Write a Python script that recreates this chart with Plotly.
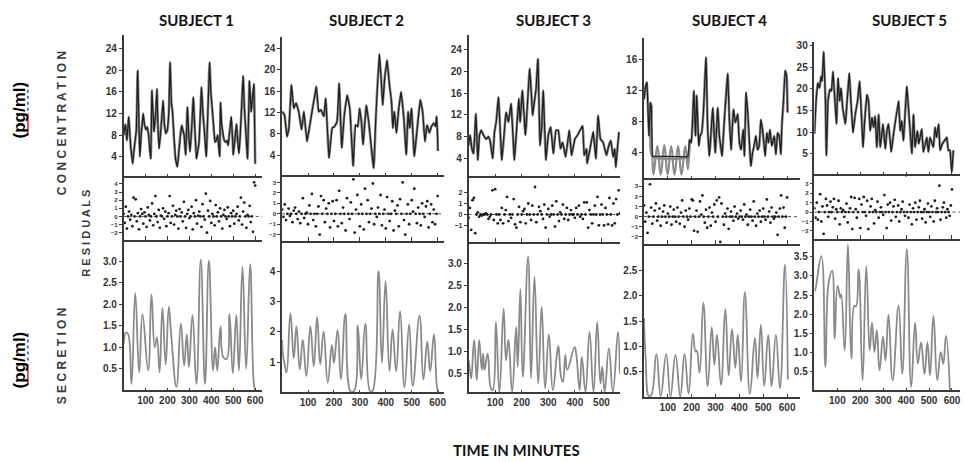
import plotly.graph_objects as go

W, H = 966, 462

# ---------------- data ----------------
subjects = ["SUBJECT 1", "SUBJECT 2", "SUBJECT 3", "SUBJECT 4", "SUBJECT 5"]

# concentration (pg/ml) vs time (min)
conc1_t = [0,8,15,23,32,41,47,52,58,64,69,74,80,89,95,102,108,114,120,124,129,134,139,146,152,157,162,170,180,186,192,200,206,212,218,223,230,237,245,252,258,265,270,276,283,291,297,303,310,318,325,332,338,344,350,355,362,368,377,384,392,398,405,411,417,423,429,438,442,447,453,459,465,471,477,484,491,496,500,507,515,520,526,532,538,545,551,558,565,574,578,582,588,594,600]
conc1_v = [8,10,7,11.4,6,2.7,5,6.7,9,20,10,4,8,12,10,9,9.5,8,5,3.6,16.3,11,8.6,12,16.6,9,5.5,9,14.4,10,8.3,9,12,21.5,14,12.3,7,3.5,2.1,5,8,9.8,9,8,4.3,13.2,8,4.9,9,15,9,3.6,5,6.7,12,16.9,12,9.2,4,12,21.5,16,12.3,9,6.7,7,8,4,14.1,10,8,7,6.7,7,6.1,9,11.4,8,4.3,7,10.1,7,4.6,8,13,19,13,8,3.6,18.1,14,12.3,15,17.5,2.7]

conc2_t = [0,9,19,26,36,45,54,64,75,84,96,107,116,125,132,141,150,161,168,181,193,202,212,220,230,240,251,261,274,283,292,299,306,312,325,334,353,362,375,382,388,396,405,414,422,427,433,441,450,459,469,479,486,492,499,510,521,533,542,551,559,568,576,585,592,596,599,601]
conc2_v = [12.2,11.6,7.5,9,17.2,12.8,13.8,12.2,8.8,12.2,6.6,9.7,12.5,15,16.9,12.2,12.5,11.3,14.7,3.5,9.1,9.4,10.3,17.5,5.4,11.6,15.3,12.8,2,9.7,9.4,12.8,10.3,6,13.4,10.3,1.6,11.6,23,18.4,13.4,18.7,21.8,17.2,14.1,9.1,12.2,8.2,12.8,15.9,11.3,4.1,12.2,9.1,12.8,3.8,9.1,14.4,12.2,6.6,9.7,8.2,9.4,10,9.4,11.3,8.5,4.8]

conc3_t = [0,6,12.5,19,27.5,35,41,47.5,56,66,75,81,91,97.5,104,112.5,125,134,141,150,160,172.5,181,189,194,202.5,214,230,236,241,247.5,254,261,269,275,281,291,300,309,319,329,337.5,346,354,365,379,387.5,400,410,429,435,444,446,456,469,479,487.5,496,506,519,527.5,535,544,550,554,560,566]
conc3_v = [6.4,8.3,5.8,4.9,12.2,3.7,8.3,9.2,8.3,7.6,8,7.3,4,8.9,10.7,15.3,3.7,8.3,12.5,10.7,14.1,3.7,9.5,15,10.7,16.5,8.3,20.5,16.2,11.9,14.4,16.8,22.3,6.4,9.5,16.5,3.7,8.3,9.8,4.9,9.2,9.2,5.8,7,4.3,9.2,4.6,7.6,8.3,10,4.6,5.8,3.1,5.5,8.9,4,11.9,7.6,7,4.6,6.4,7.3,4.3,5.8,2.4,5.8,8.9]

conc4_t = [0,7,12.5,17,21,26.5,31,35,184,191,198,202,209,216,221,230,235,242,249,260,267,274,281,288,299,309,316,327,337,351,358,365,375,383,393,400,407,416,421,428,435,448,455,462,469,476,483,490,497,508,515,522,528,536,546,553,560,567,574,578,585,592,598,602]
conc4_v = [10.9,12.6,13.1,9.2,6.2,10.5,10,3.6,3.5,5.7,5.3,7,12,6.2,11.4,4.9,6.2,6.6,9.2,16.3,7,3.6,6.2,9.8,4,9.8,6.2,3.6,8.3,14.2,8.3,4.4,9.6,7.9,9,5.3,4.4,7,3.6,11.8,9.2,2.3,4,4.9,6.2,4.4,4.9,8.3,7,3.6,6.6,5.3,7,4.9,6.2,3.8,6.6,6.2,3.8,7.5,10.5,14.6,13.9,9.2]
# model fit of subject 4 where the data sit at the detection limit
fit4_t = [31,35,40,56,70,85,99,114,128,143,157,173,184,191]
fit4_v = [10,3.6,1.2,4.9,1.2,5,1.2,4.9,1.2,4.9,1.2,4.9,1.9,5.7]

conc5_t = [0,7,14.5,22,29,33,40.5,48,52,59,67,74,81,88,96,103,110,116,123,135,142,152,159,168,178,188,197,204,212,219,229,236,243,251,258,265,272,280,287,294,299,309,316,323,335,345,367,374,381,388,403,410,425,432,439,449,455,468,475,490,497,504,519,526,533,542,548,558,567,577,584,591,599,606]
conc5_v = [9.6,17.2,21.4,20.2,22.9,21.8,28.6,17.2,4.6,17.2,19.9,19.5,24,18,11.9,22.5,17.2,20.2,15.7,11.9,17.2,23.7,17.2,9.9,14.1,17.2,21.8,15.7,6.5,12.6,18.7,17.2,10.3,13.4,11.1,13.7,6.5,14.1,6.5,9.6,11.9,6.1,10.3,11.9,5.4,9.6,17.2,10.3,12.6,8,20.6,15.7,5,14.1,6.5,10.3,7.3,10.7,5.4,8.8,5.4,8.8,6.5,11.1,8.8,11.9,5.8,7.3,8,8.8,5.8,5.8,0.8,5.8]

# residuals, one every 5 minutes
resid1 = [0.3,-0.8,1.2,-1.5,0.0,0.6,-0.4,0.2,-1.2,2.3,0.0,2.1,-0.6,0.4,-1.6,0.0,0.9,0.3,-0.9,0.5,0.0,-1.3,1.1,0.2,-0.5,0.0,1.6,-1.1,0.3,2.5,0.0,-0.7,0.8,-1.4,0.1,0.0,1.0,-0.3,0.6,-1.2,0.0,0.4,2.5,-0.8,0.0,1.3,-1.0,0.2,0.7,0.0,-1.5,0.9,0.0,0.5,-0.6,1.8,0.0,-1.4,0.3,0.8,-0.2,0.0,1.2,-1.6,0.4,0.0,2.0,-0.9,0.1,0.6,0.0,-1.3,1.5,0.0,-0.4,2.8,-2.0,0.7,0.0,1.9,-0.8,0.3,0.0,-1.1,1.4,0.0,0.5,-0.6,1.0,0.0,-1.5,0.2,0.8,0.0,-0.3,1.1,0.0,-1.2,0.4,0.0,0.7,-0.9,0.0,0.3,1.2,-0.5,0.0,2.3,-1.0,0.6,1.7,0.0,-1.4,0.2,0.0,1.3,-0.7,0.0,-1.9,4.2,3.8]
resid2 = [0.4,-0.3,0.9,-0.6,0.0,0.5,-0.2,0.0,-0.8,0.3,0.6,0.0,-0.5,0.2,-0.9,0.0,1.5,-0.4,0.0,0.1,-1.0,0.8,0.0,1.9,-0.6,0.0,-1.2,0.0,0.7,-2.0,1.7,0.0,1.3,-0.8,0.5,0.0,1.0,-1.3,0.0,1.2,-0.7,0.0,1.3,-1.2,2.2,0.0,-0.9,0.6,0.0,-1.6,1.5,0.0,-0.5,1.1,0.0,3.3,-1.8,0.4,1.8,0.0,-1.2,0.9,0.0,-1.5,2.4,0.0,1.3,-0.8,0.0,0.5,2.9,-1.0,0.0,-0.3,0.6,0.0,1.8,-1.1,0.0,0.4,-1.4,1.6,0.0,-0.7,0.0,1.2,-1.6,0.3,0.0,0.8,-1.2,1.4,0.0,3.0,-0.6,-2.0,0.0,0.9,-1.0,0.0,1.3,0.2,2.4,0.0,-0.9,0.6,0.0,-1.1,1.0,0.0,-0.3,0.7,1.2,-1.3,0.0,0.9,-0.8,0.4,-1.0,0.0,1.7]
resid3 = [-0.3,0.6,-1.4,1.3,1.5,-1.7,0.0,0.2,-0.2,0.0,-0.1,0.0,0.0,0.1,0.0,-0.4,-0.2,0.0,2.2,-0.5,2.3,0.0,-0.8,0.0,-0.5,0.6,-0.8,0.0,0.4,1.6,-0.6,0.0,-0.3,0.0,1.4,-0.9,-1.2,0.0,0.7,-0.7,0.0,0.3,0.5,-0.8,0.0,1.0,0.0,-0.5,0.8,0.0,2.5,-0.7,0.0,0.7,0.3,0.0,-0.4,0.9,-1.2,0.0,0.5,-0.2,0.0,0.8,0.0,-1.1,1.2,0.0,-0.6,0.2,0.0,0.9,-0.4,0.0,0.6,-0.5,0.0,0.4,0.0,0.0,-0.3,0.6,0.0,0.8,-0.2,0.0,-0.4,1.1,0.0,1.1,-1.2,0.4,0.0,-0.8,0.0,0.8,0.0,1.6,-1.0,0.0,0.9,0.0,-1.0,0.6,0.0,-0.9,1.5,0.0,-1.0,1.0,-0.8,1.4,0.0,2.2,0.1]
resid4 = [1.1,-0.5,0.4,-1.6,0.0,3.2,0.9,-0.7,0.0,0.6,1.3,-0.4,0.0,0.8,-0.9,0.0,0.5,1.1,0.0,-0.6,0.3,0.0,1.0,-0.8,0.0,0.7,0.0,-0.5,0.9,0.0,-0.7,0.4,1.6,0.0,-1.0,0.6,0.0,-0.3,0.8,0.0,1.7,1.6,-1.4,0.0,0.6,-1.5,0.0,1.5,0.2,2.1,0.0,-0.6,0.7,-1.1,0.0,0.9,-0.9,0.4,0.0,1.2,-0.5,1.6,0.0,1.9,-2.5,1.3,0.0,-0.8,0.3,0.0,0.8,-1.2,0.0,0.5,0.0,-0.4,1.0,0.0,0.3,-0.2,0.0,0.6,0.0,-0.3,1.2,0.0,0.2,-0.8,0.0,0.7,0.0,-0.4,1.5,0.0,-0.9,0.3,0.0,0.6,-0.5,0.0,0.8,0.0,-0.3,1.7,0.0,0.5,-0.6,0.9,0.0,-0.2,0.0,0.4,-1.8,0.0,0.8,2.1,0.0,0.9,-1.1,0.0,1.9]
resid5 = [0.4,-0.6,1.0,-0.8,0.0,1.9,-1.0,0.6,-2.3,0.0,1.4,0.7,-0.5,0.0,1.1,0.0,0.5,1.4,-0.7,0.3,0.0,1.2,-1.3,0.4,0.0,0.2,-0.5,0.0,0.9,-1.1,0.0,0.4,1.6,-1.8,0.0,1.5,0.3,-0.6,0.0,1.4,-1.7,0.8,0.0,1.6,0.0,-0.4,1.2,-1.8,0.0,0.6,1.4,0.0,-1.2,0.2,0.0,1.1,-0.6,0.0,0.5,0.0,-0.3,1.8,0.0,-1.7,0.8,0.0,1.0,-0.9,0.0,0.6,1.3,-0.5,0.0,0.7,-1.0,0.0,0.3,1.1,0.0,-0.4,3.9,0.0,-0.6,0.8,0.0,-1.3,0.4,0.0,1.0,-0.8,0.0,0.5,1.2,0.0,-0.7,0.0,0.3,-1.1,0.0,0.9,0.0,-0.5,0.6,0.0,-1.0,1.2,0.0,0.4,0.0,2.8,-0.8,0.0,0.5,1.0,0.0,-0.6,0.3,0.0,-0.4,0.7,2.4]

# secretion (pg/ml/min) turning points vs time
sec1_t = [0,11,21,36,53,71,86,112,127,142,152,164,177,192,206,218,241,261,276,288,298,314,332,352,371,389,408,417,427,442,455,470,483,498,514,526,542,559,577,594,600]
sec1_v = [1.08,1.35,1.3,0.15,2.27,0.42,1.77,0.46,2.23,1.0,1.23,0.42,1.92,0.6,1.94,1.23,0.08,1.55,0.58,1.3,0.54,1.75,0.15,3.04,0.15,3.02,0.46,1.0,0.46,1.48,0.77,0.73,1.77,0.4,1.75,0.46,2.88,0.5,2.94,0.15,0.0]
sec2_t = [0,4,9,17,32,45,55,68,79.5,93.6,109,122,135,147,160,176,192,200,214,227,244,265,278,292,305,321,340,349,372,385,399,414,426,440,455,472,490,504,530,545,560,571,586,599,605]
sec2_v = [1.73,1.19,0.97,0.65,2.61,1.13,2.18,0.76,1.73,0.54,2.18,0.86,2.48,0.92,2.0,0.32,1.56,0.97,2.05,0.43,2.59,0.02,0.05,2.21,0.43,2.27,0.02,0.05,4.0,0.97,3.67,0.7,2.07,0.7,2.68,0.16,2.24,0.22,2.54,0.43,1.67,0.7,1.91,0.1,0.0]
sec3_t = [0,5,10,21,31,40,50,55,60,72,84,91,103,116,132,141,150,164,179,185,195,204,224,235,248,262,275,288,302,317,332,338,348,355,364,371,399,405,418,426,440,455,470,484,496,503,512,528,543,562,569]
sec3_v = [0.8,0.58,0.39,1.26,0.35,1.26,0.58,0.95,0.58,0.95,0.16,0.12,1.67,0.06,1.98,0.8,1.27,0.08,1.56,0.65,2.43,0.42,3.17,0.39,2.71,0.27,2.02,0.16,1.39,0.12,0.92,1.13,0.42,0.31,0.92,0.58,1.1,0.95,0.12,0.88,0.08,1.45,0.08,1.67,0.27,0.65,0.08,1.07,0.08,1.45,0.5]
sec4_t = [0,7,21,31,52,70,93,111,132,152,170,187,205,216,221,233,249,267,284,295,306,323,341,355,369,383,393,407,423,444,465,476,490,504,521,535,553,570,591,603]
sec4_v = [1.56,0.77,0.02,0.05,0.85,0.02,0.85,0.02,0.83,0.02,0.85,0.07,1.25,0.9,0.92,0.48,1.86,0.22,1.38,0.64,1.23,0.24,1.74,0.43,1.34,0.58,1.23,0.31,2.07,0.07,1.17,0.38,1.43,0.22,1.23,0.22,1.23,0.18,2.61,0.35]
sec5_t = [0,4,30,48,62,77,88,101,113,117,132,146,161,174,181,193,210,226,241,251,262,272,284,299,310,323,341,367,383,403,422,439,451,465,480,493,504,519,536,551,562,574,591]
sec5_v = [2.6,2.65,3.52,0.61,2.83,3.13,1.35,2.74,2.43,2.52,1.04,3.83,0.83,2.22,2.2,3.17,0.26,3.26,1.04,1.78,1.0,1.58,0.52,1.41,0.78,1.98,0.26,2.22,0.43,3.7,0.09,1.77,0.7,1.26,0.43,1.26,0.39,1.96,0.26,1.0,0.7,1.43,0.0]

conc_t = [conc1_t, conc2_t, conc3_t, conc4_t, conc5_t]
conc_v = [conc1_v, conc2_v, conc3_v, conc4_v, conc5_v]
resids = [resid1, resid2, resid3, resid4, resid5]
sec_t = [sec1_t, sec2_t, sec3_t, sec4_t, sec5_t]
sec_v = [sec1_v, sec2_v, sec3_v, sec4_v, sec5_v]

conc_ticks = [[4,8,12,16,20,24]]*3 + [[4,8,12,16], [5,10,15,20,25,30]]
resid_ticks = [[-2,-1,0,1,2,3,4], [-2,-1,0,1,2,3], [-1,0,1,2], [-2,-1,0,1,2,3], [-2,-1,0,1,2,3]]
sec_ticks = [[0.5,1.0,1.5,2.0,2.5,3.0], [1,2,3,4], [0.5,1.0,1.5,2.0,2.5,3.0], [0.5,1.0,1.5,2.0,2.5], [0.5,1.0,1.5,2.0,2.5,3.0,3.5]]
time_ticks = [[100,200,300,400,500,600]]*2 + [[100,200,300,400,500]] + [[100,200,300,400,500,600]]*2

# ---------------- layout of the panels (pixels) ----------------
geo = [
    dict(x=(124, 263), conc=(33, 177), res=(177, 239), sec=(239, 390), xr=[0, 632],
         cr=[0, 26.6], rr=[-2.9, 4.7], sr=[0, 3.5], sfmt=".1f"),
    dict(x=(283, 445), conc=(35, 176), res=(176, 240), sec=(240, 392), xr=[0, 623],
         cr=[-0.1, 26.2], rr=[-2.6, 3.5], sr=[0.0, 5.0], sfmt="d"),
    dict(x=(470, 622), conc=(33, 177), res=(177, 241), sec=(241, 392), xr=[0, 570],
         cr=[0.4, 26.7], rr=[-2.5, 3.3], sr=[0.07, 3.5], sfmt=".1f"),
    dict(x=(646, 802), conc=(36, 179), res=(179, 243), sec=(243, 397), xr=[0, 652],
         cr=[0.5, 18.8], rr=[-2.7, 3.6], sr=[0, 3.02], sfmt=".1f"),
    dict(x=(817, 963), conc=(40, 175), res=(175, 238), sec=(238, 390), xr=[0, 635],
         cr=[-0.2, 30.9], rr=[-2.85, 3.8], sr=[0, 3.97], sfmt=".1f"),
]

def xdom(a, b):
    return [a / W, b / W]

def ydom(top, bottom):
    return [1 - bottom / H, 1 - top / H]

TICKFONT = dict(family="Liberation Sans Narrow, Arial Narrow, Liberation Sans, Arial", size=10,
                color="#333333", weight="bold")
AX = "#3a3a3a"

fig = go.Figure()
layout = {}
shapes = []

def axname(n, kind):
    return kind if n == 1 else f"{kind}{n}"

for i in range(5):
    g = geo[i]
    nc, nr, ns = 3 * i + 1, 3 * i + 2, 3 * i + 3
    xc, yc = axname(nc, "x"), axname(nc, "y")
    # concentration: fit (grey) and data (dark)
    fig.add_trace(go.Scatter(x=conc_t[i], y=conc_v[i], mode="lines",
                             line=dict(color="#8c8c8c", width=2.6, shape="spline", smoothing=0.6),
                             xaxis=xc, yaxis=yc, hoverinfo="skip"))
    if i == 3:
        fig.add_trace(go.Scatter(x=fit4_t, y=fit4_v, mode="lines",
                                 line=dict(color="#8c8c8c", width=2.2, shape="spline", smoothing=1.3),
                                 xaxis=xc, yaxis=yc, hoverinfo="skip"))
    fig.add_trace(go.Scatter(x=conc_t[i], y=conc_v[i], mode="lines",
                             line=dict(color="#1e1e1e", width=1.2),
                             xaxis=xc, yaxis=yc))
    # residuals
    rt = [5 * k for k in range(len(resids[i]))]
    fig.add_trace(go.Scatter(x=rt, y=resids[i], mode="markers",
                             marker=dict(color="#1e1e1e", size=2.8),
                             xaxis=axname(nr, "x"), yaxis=axname(nr, "y")))
    # secretion
    fig.add_trace(go.Scatter(x=sec_t[i], y=sec_v[i], mode="lines",
                             line=dict(color="#8a8a8a", width=1.8, shape="spline", smoothing=1.3),
                             xaxis=axname(ns, "x"), yaxis=axname(ns, "y")))

    common_x = dict(domain=xdom(*g["x"]), range=g["xr"], showgrid=False, zeroline=False,
                    tickvals=time_ticks[i], tickfont=TICKFONT)
    layout[f"xaxis{nc}"] = dict(common_x, anchor=f"y{nc}", showline=False,
                                ticks="inside", ticklen=4, tickcolor=AX, showticklabels=False)
    layout[f"xaxis{nr}"] = dict(common_x, anchor=f"y{nr}", showline=True, mirror=True, linecolor=AX,
                                linewidth=2, ticks="inside", ticklen=4, tickcolor=AX, showticklabels=False)
    layout[f"xaxis{ns}"] = dict(common_x, anchor=f"y{ns}", showline=True, linecolor=AX, linewidth=1.6,
                                ticks="inside", ticklen=3, tickcolor=AX, showticklabels=True)

    common_y = dict(showgrid=False, zeroline=False, showline=True, linecolor=AX, linewidth=1.5,
                    ticks="outside", ticklen=3, tickcolor=AX)
    layout[f"yaxis{nc}"] = dict(common_y, domain=ydom(*g["conc"]), anchor=f"x{nc}", range=g["cr"],
                                tickvals=conc_ticks[i], tickfont=TICKFONT)
    layout[f"yaxis{nr}"] = dict(common_y, domain=ydom(*g["res"]), anchor=f"x{nr}", range=g["rr"],
                                tickvals=resid_ticks[i],
                                tickfont=dict(TICKFONT, size=7 if i == 2 else 6))
    layout[f"yaxis{ns}"] = dict(common_y, domain=ydom(*g["sec"]), anchor=f"x{ns}", range=g["sr"],
                                tickvals=sec_ticks[i], tickformat=g["sfmt"], tickfont=TICKFONT)
    # dotted zero line of the residual panel
    shapes.append(dict(type="line", xref=f"x{nr} domain", x0=0, x1=1, yref=f"y{nr}", y0=0, y1=0,
                       line=dict(color="#555555", width=1, dash="dot"), layer="below"))

annotations = []
title_x = [197, 368, 555, 732, 912]
for i in range(5):
    annotations.append(dict(text=subjects[i], x=title_x[i] / W, y=1 - 18 / H, xref="paper", yref="paper",
                            showarrow=False, xanchor="center", yanchor="middle",
                            font=dict(family="Lato, Open Sans, Liberation Sans", size=15, color="#111111",
                                      weight="bold")))
annotations.append(dict(text="TIME IN MINUTES", x=518 / W, y=1 - 450 / H, xref="paper", yref="paper",
                        showarrow=False, xanchor="center", yanchor="middle",
                        font=dict(family="Lato, Open Sans, Liberation Sans", size=15, color="#111111",
                                  weight="bold")))

side = [("C O N C E N T R A T I O N", 63, 122, 12),
        ("R E S I D U A L S", 86, 232, 11),
        ("S E C R E T I O N", 63, 355, 12)]
for txt, xp, yp, sz in side:
    annotations.append(dict(text=txt, x=xp / W, y=1 - yp / H, xref="paper", yref="paper", showarrow=False,
                            textangle=-90, xanchor="center", yanchor="middle",
                            font=dict(family="Liberation Sans, Arial", size=sz, color="#3a3a3a",
                                      weight="bold")))
for yp in (108, 359):
    annotations.append(dict(text="(pg/ml)", x=20 / W, y=1 - yp / H, xref="paper", yref="paper",
                            showarrow=False, textangle=-90, xanchor="center", yanchor="middle",
                            font=dict(family="Liberation Sans, Arial", size=17, color="#000000",
                                      weight="bold")))

# spell-check squiggles under "(pg/ml)"
for (b0, b1, r0, r1) in ((82, 112, 112, 134), (333, 363, 363, 385)):
    shapes.append(dict(type="line", xref="paper", yref="paper", x0=28 / W, x1=28 / W,
                       y0=1 - b0 / H, y1=1 - b1 / H, line=dict(color="#2a3cff", width=1.5, dash="dot")))
    shapes.append(dict(type="line", xref="paper", yref="paper", x0=28 / W, x1=28 / W,
                       y0=1 - r0 / H, y1=1 - r1 / H, line=dict(color="#e0202a", width=1.5)))

fig.update_layout(width=W, height=H, margin=dict(l=0, r=0, t=0, b=0), showlegend=False,
                  paper_bgcolor="white", plot_bgcolor="white", annotations=annotations, shapes=shapes,
                  **layout)

fig.write_html("out.html", config={"displayModeBar": False},
               post_script="document.body.style.margin='0';document.body.style.overflow='hidden';")
